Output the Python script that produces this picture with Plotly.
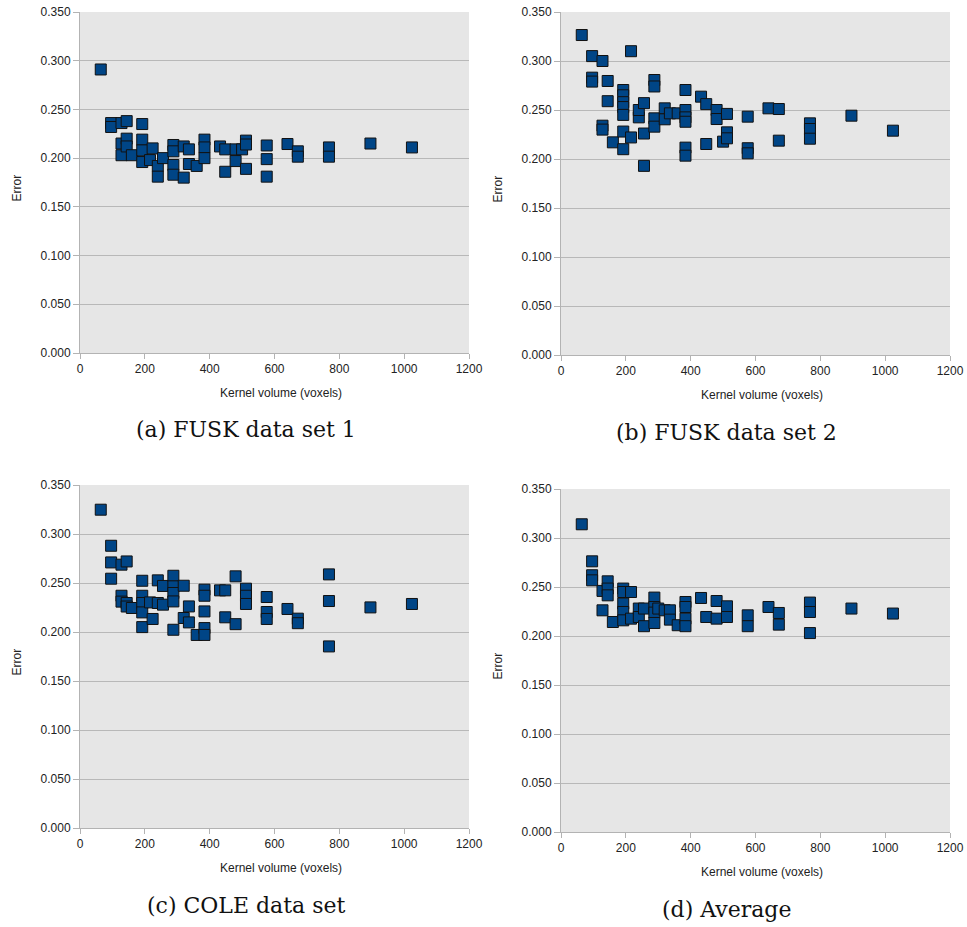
import plotly.graph_objects as go

W, H = 967, 927
OFF = 0

# ---------------- data ----------------
fusk1_x = [64, 96, 96, 128, 128, 128, 144, 144, 144, 160, 192, 192, 192, 192, 216, 224, 240, 240, 256,
           288, 288, 288, 288, 320, 320, 336, 336, 360, 384, 384, 384, 432, 448, 448, 480, 480, 500,
           512, 512, 512, 576, 576, 576, 640, 672, 672, 768, 768, 896, 1024]
fusk1_y = [0.291, 0.236, 0.232, 0.236, 0.215, 0.203, 0.238, 0.220, 0.212, 0.203, 0.235, 0.219, 0.208, 0.196,
           0.198, 0.210, 0.192, 0.181, 0.200, 0.2135, 0.207, 0.193, 0.183, 0.212, 0.180, 0.209, 0.194, 0.192,
           0.219, 0.211, 0.200, 0.212, 0.209, 0.186, 0.209, 0.197, 0.209, 0.218, 0.214, 0.189,
           0.213, 0.199, 0.181, 0.2145, 0.207, 0.2015, 0.211, 0.2015, 0.215, 0.211]

fusk2_x = [64, 96, 96, 96, 128, 128, 128, 144, 144, 160, 192, 192, 192, 192, 192, 192, 192, 216, 216,
           240, 240, 256, 256, 256, 288, 288, 288, 288, 320, 320, 336, 360, 384, 384, 384, 384, 384, 384,
           432, 448, 448, 480, 480, 500, 512, 512, 512, 576, 576, 576, 640, 672, 672, 768, 768, 768, 896, 1024]
fusk2_y = [0.3265, 0.305, 0.283, 0.279, 0.300, 0.234, 0.230, 0.2796, 0.259, 0.217,
           0.2704, 0.265, 0.258, 0.253, 0.245, 0.228, 0.210, 0.310, 0.222,
           0.2425, 0.250, 0.257, 0.226, 0.193, 0.2806, 0.274, 0.2415, 0.233, 0.2517, 0.2405, 0.2466, 0.2466,
           0.2704, 0.250, 0.2425, 0.238, 0.2116, 0.2034, 0.2636, 0.256, 0.2153, 0.250, 0.2408, 0.2177,
           0.246, 0.2272, 0.2211, 0.2432, 0.211, 0.2058, 0.2517, 0.251, 0.2187, 0.2364, 0.2306, 0.2207,
           0.2442, 0.2289]

cole_x = [64, 96, 96, 96, 128, 128, 128, 144, 144, 144, 160, 192, 192, 192, 192, 192, 216, 224, 240, 240,
          256, 256, 288, 288, 288, 288, 288, 320, 320, 336, 336, 360, 384, 384, 384, 384, 384, 432, 448, 448,
          480, 480, 512, 512, 512, 576, 576, 576, 640, 672, 672, 768, 768, 768, 896, 1024]
cole_y = [0.3248, 0.288, 0.271, 0.2544, 0.2687, 0.237, 0.231, 0.272, 0.2296, 0.226, 0.2245,
          0.2523, 0.237, 0.2296, 0.220, 0.205, 0.2302, 0.2133, 0.2527, 0.2296, 0.247, 0.2279,
          0.2574, 0.2466, 0.2398, 0.2312, 0.2023, 0.2472, 0.2143, 0.2261, 0.2098, 0.197,
          0.2432, 0.237, 0.221, 0.204, 0.197, 0.2425, 0.2425, 0.215, 0.2568, 0.208,
          0.2442, 0.237, 0.2286, 0.2357, 0.2204, 0.2133, 0.2235, 0.2136, 0.209,
          0.2588, 0.2316, 0.1853, 0.2251, 0.2286]

avg_x = [64, 96, 96, 96, 128, 128, 144, 144, 144, 160, 192, 192, 192, 192, 192, 216, 216, 240, 240,
         256, 256, 288, 288, 288, 288, 300, 320, 336, 336, 360, 384, 384, 384, 384, 432, 448, 480, 480,
         512, 512, 576, 576, 640, 672, 672, 768, 768, 768, 896, 1024]
avg_y = [0.314, 0.2762, 0.262, 0.2568, 0.246, 0.2262, 0.2558, 0.2484, 0.2415, 0.2143,
         0.2484, 0.2449, 0.2331, 0.2245, 0.216, 0.2449, 0.2177, 0.228, 0.2194, 0.228, 0.210,
         0.2392, 0.2296, 0.2239, 0.2133, 0.228, 0.2262, 0.2262, 0.2167, 0.211,
         0.2347, 0.2296, 0.2177, 0.210, 0.2388, 0.2194, 0.2357, 0.2177, 0.2303, 0.2194,
         0.2211, 0.210, 0.2296, 0.2235, 0.2116, 0.2341, 0.2245, 0.203, 0.228, 0.2229]

captions = ["(a) FUSK data set 1", "(b) FUSK data set 2", "(c) COLE data set", "(d) Average"]
x_title = "Kernel volume (voxels)"
y_title = "Error"
x_ticks = [0, 200, 400, 600, 800, 1000, 1200]
y_ticks = [0.0, 0.05, 0.10, 0.15, 0.20, 0.25, 0.30, 0.35]

panels = [(fusk1_x, fusk1_y), (fusk2_x, fusk2_y), (cole_x, cole_y), (avg_x, avg_y)]

# ---------------- layout geometry (page pixels) ----------------
# (left, right, top, bottom) of each plot area
boxes = [(80, 469, 12, 353), (561, 950, 12, 355), (80, 469, 485, 828), (561, 950, 489, 832)]

def px(x):
    return (x - OFF) / W

def py(y):
    return 1 - (y - OFF) / H

fig = go.Figure()
layout = dict(width=W, height=H, margin=dict(l=0, r=0, t=0, b=0, autoexpand=False),
              paper_bgcolor="white", showlegend=False,
              font=dict(family="Liberation Sans, Arial, sans-serif", size=12, color="#222222"))
annotations = []

tick_font = dict(family="Liberation Sans, Arial, sans-serif", size=12, color="#222222")
for i, ((xs, ys), (l, r, t, b)) in enumerate(zip(panels, boxes)):
    n = "" if i == 0 else str(i + 1)
    fig.add_trace(go.Scatter(
        x=xs, y=ys, mode="markers", xaxis="x" + n, yaxis="y" + n,
        marker=dict(symbol="square", size=11, color="#004586",
                    line=dict(color="#111111", width=1)),
        hoverinfo="x+y"))
    layout["xaxis" + n] = dict(domain=[px(l), px(r)], anchor="y" + n, range=[0, 1200],
                               tickvals=x_ticks, ticktext=[str(v) for v in x_ticks],
                               showgrid=False, zeroline=False, showline=True, automargin=False,
                               linecolor="#b3b3b3", linewidth=1, ticks="outside", ticklen=5,
                               tickcolor="#b3b3b3", tickfont=tick_font, mirror=False,
                               ticklabeloverflow="allow")
    layout["yaxis" + n] = dict(domain=[py(b), py(t)], anchor="x" + n, range=[0, 0.35],
                               tickvals=y_ticks, ticktext=["%.3f" % v for v in y_ticks],
                               showgrid=True, gridcolor="#b8b8b8", gridwidth=1, automargin=False,
                               zeroline=False, showline=True, linecolor="#b3b3b3", linewidth=1,
                               ticks="outside", ticklen=6, tickcolor="#b3b3b3", tickfont=tick_font,
                               ticklabeloverflow="allow")
    # plot background
    fig.add_shape(type="rect", xref="x" + n + " domain", yref="y" + n + " domain",
                  x0=0, x1=1, y0=0, y1=1, fillcolor="#e6e6e6", line=dict(width=0), layer="below")
    cx = (l + r) / 2
    annotations.append(dict(x=px(cx + 6), y=py(b + 40), xref="paper", yref="paper",
                            text=x_title, showarrow=False, xanchor="center", yanchor="middle",
                            font=dict(family="Liberation Sans, Arial, sans-serif", size=12, color="#222222")))
    annotations.append(dict(x=px(l - 64), y=py((t + b) / 2 + 6), xref="paper", yref="paper",
                            text=y_title, showarrow=False, textangle=-90, xanchor="center", yanchor="middle",
                            font=dict(family="Liberation Sans, Arial, sans-serif", size=12, color="#222222")))
    annotations.append(dict(x=px(cx - 29), y=py(b + 77), xref="paper", yref="paper",
                            text=captions[i], showarrow=False, xanchor="center", yanchor="middle",
                            font=dict(family="DejaVu Serif, serif", size=22, color="#111111")))

layout["annotations"] = annotations
layout["plot_bgcolor"] = "rgba(0,0,0,0)"
fig.update_layout(**layout)
fig.write_html("out.html", config={"displayModeBar": False},
               post_script="document.body.style.margin='0px';")
